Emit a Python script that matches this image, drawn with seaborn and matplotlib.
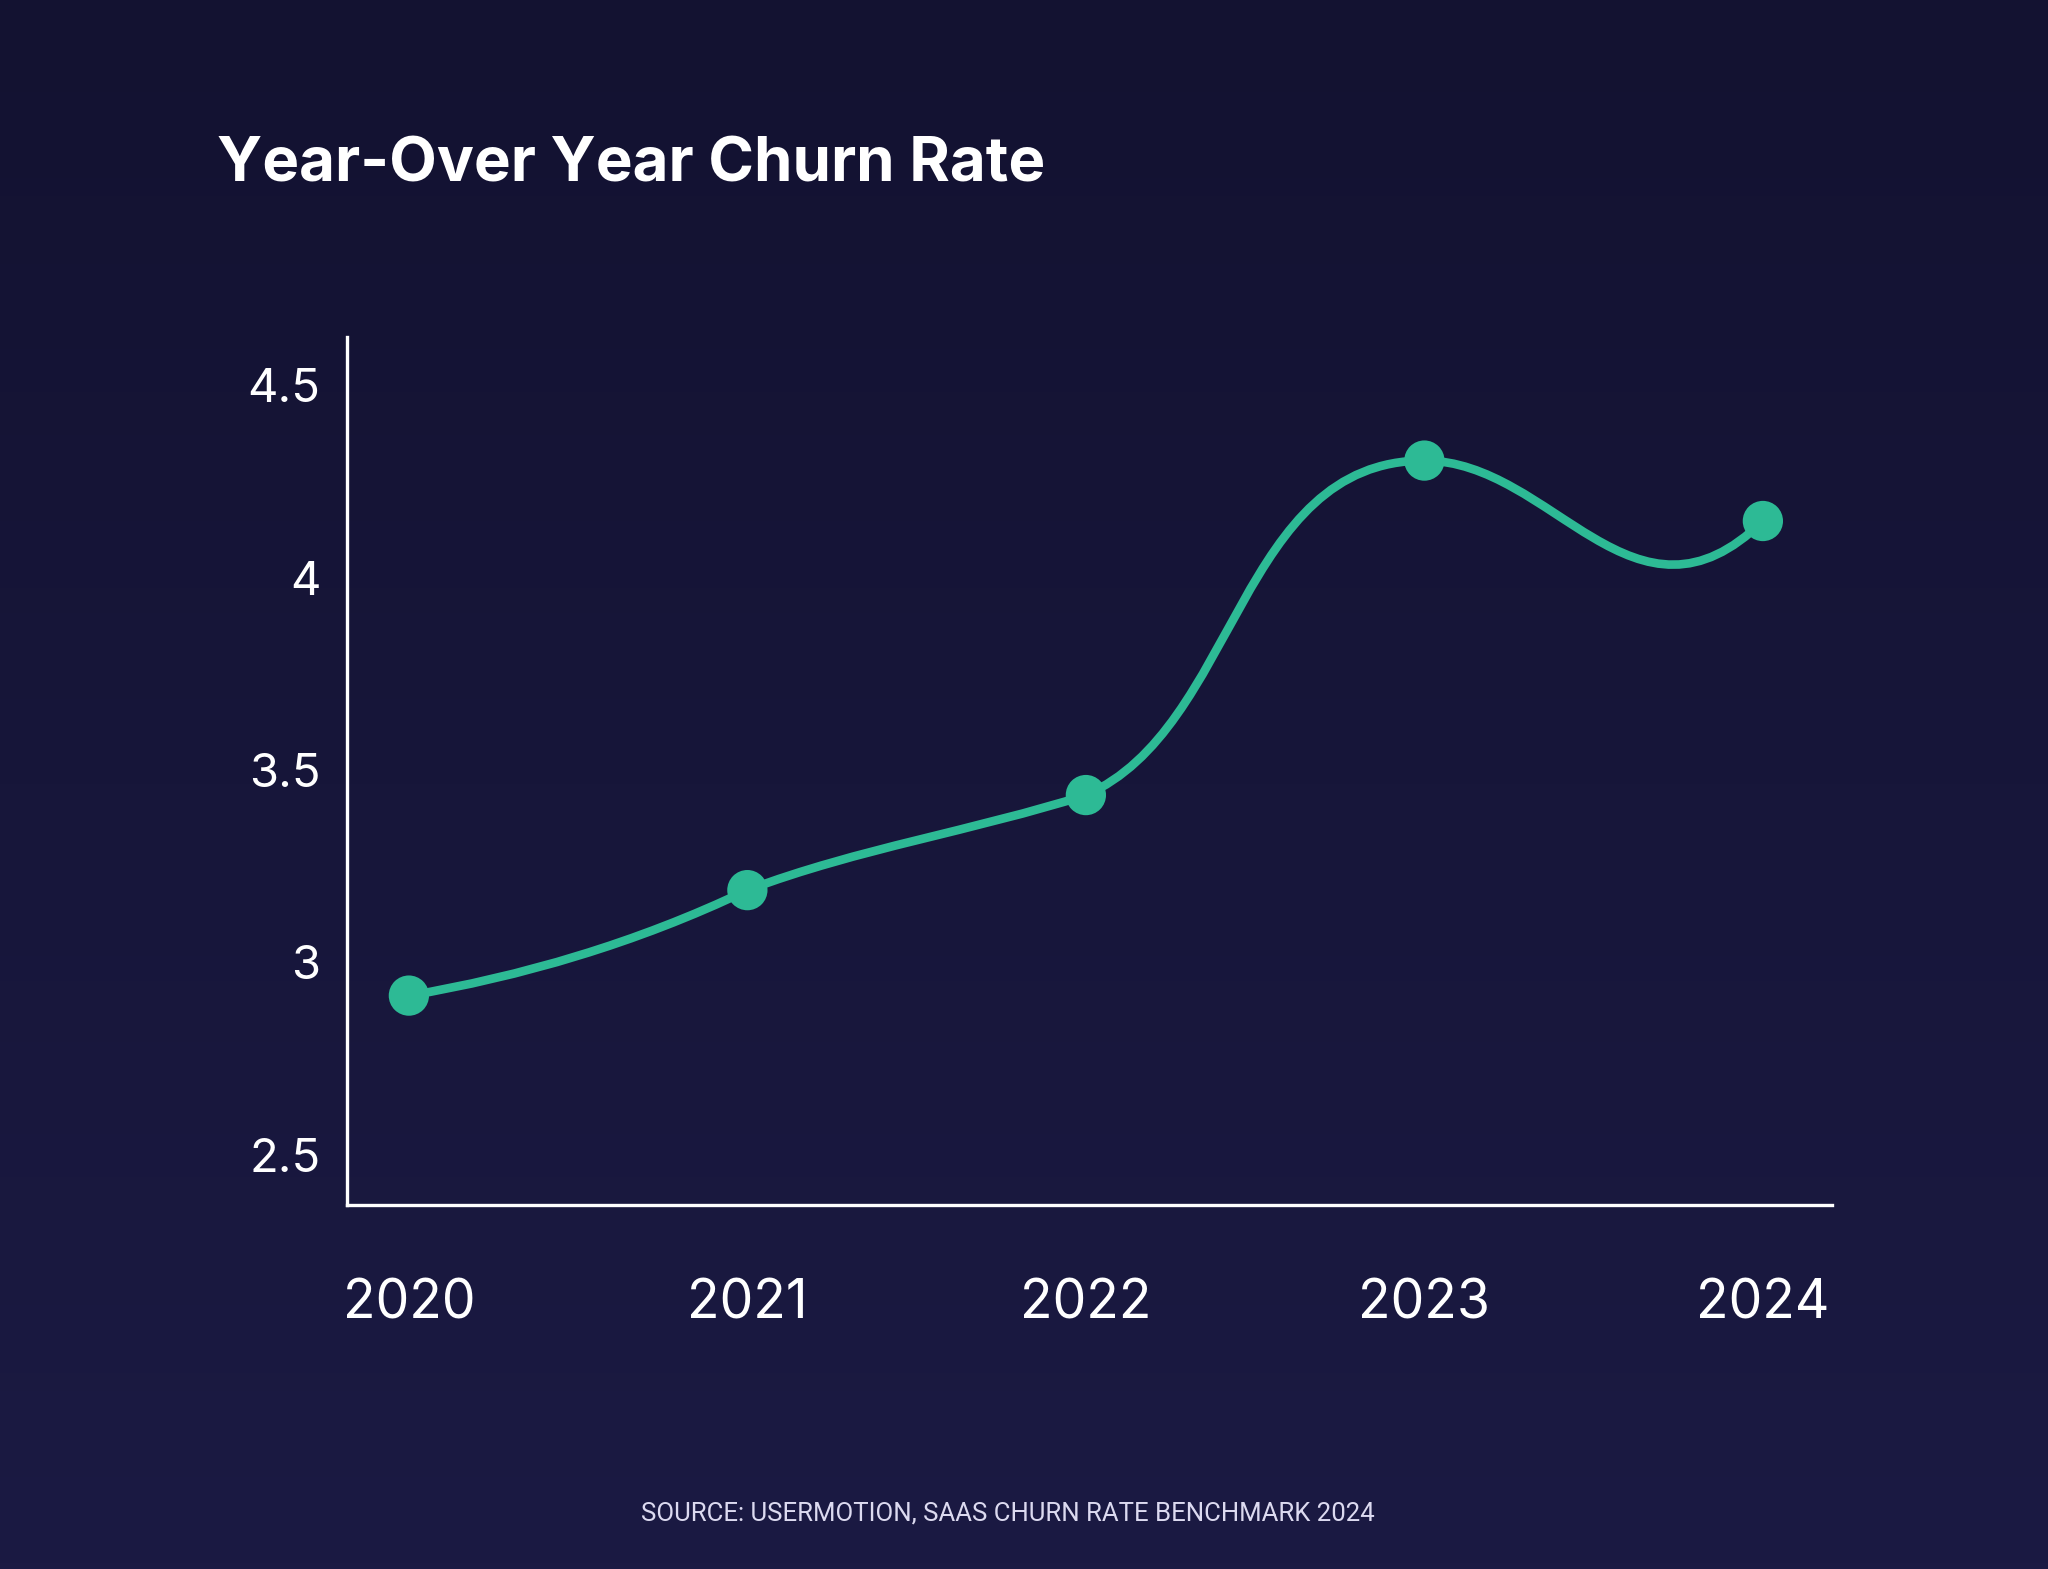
import numpy as np
import matplotlib
matplotlib.use("Agg")
import matplotlib.pyplot as plt
from matplotlib.path import Path
from matplotlib.patches import PathPatch
import seaborn as sns

# data
years = [2020, 2021, 2022, 2023, 2024]
churn = [2.914, 3.188, 3.435, 4.304, 4.147]
y_ticks = [2.5, 3, 3.5, 4, 4.5]
y_tick_labels = ["2.5", "3", "3.5", "4", "4.5"]
title = "Year-Over Year Churn Rate"
source = "SOURCE: USERMOTION, SAAS CHURN RATE BENCHMARK 2024"

# curve handles per segment: (out length, out slope, in length, in slope)
handles = [
    (0.33, 0.15, 0.33, 0.42),
    (0.33, 0.33, 0.33, 0.28),
    (0.45, 0.385, 0.55, 0.0),
    (0.38, 0.0, 0.38, 0.86),
]

BG_TOP = "#131231"
BG_BOTTOM = "#1b1a43"
GREEN = "#2dba95"
WHITE = "#ffffff"

sns.set_style("dark")
plt.rcParams["font.family"] = ["Inter", "DejaVu Sans"]

fig = plt.figure(figsize=(20.48, 15.69), dpi=100)

# background gradient
bg = fig.add_axes([0, 0, 1, 1], zorder=-10)
grad = np.linspace(0, 1, 256)[:, None]
cmap = matplotlib.colors.LinearSegmentedColormap.from_list("bg", [BG_TOP, BG_BOTTOM])
bg.imshow(grad, aspect="auto", cmap=cmap, extent=[0, 1, 0, 1], origin="upper")
bg.axis("off")

ax = fig.add_axes([0.1694, 0.2320, 0.7251, 0.5532])
ax.set_facecolor("none")

# smooth line through the points (cubic bezier segments)
verts = [(years[0], churn[0])]
codes = [Path.MOVETO]
for i, (lo, so, li, si) in enumerate(handles):
    x0, y0 = years[i], churn[i]
    x1, y1 = years[i + 1], churn[i + 1]
    verts += [(x0 + lo, y0 + lo * so), (x1 - li, y1 - li * si), (x1, y1)]
    codes += [Path.CURVE4] * 3
ax.add_patch(PathPatch(Path(verts, codes), fill=False, edgecolor=GREEN,
                       lw=6.2, capstyle="round", zorder=2))

sns.scatterplot(x=years, y=churn, ax=ax, s=29 ** 2, color=GREEN,
                edgecolor="none", zorder=3, legend=False)

ax.set_xlim(2019.817, 2024.204)
ax.set_ylim(2.37, 4.625)
ax.set_xticks(years)
ax.set_xticklabels([str(y) for y in years])
ax.set_yticks(y_ticks)
ax.set_yticklabels(y_tick_labels)
ax.tick_params(axis="x", length=0, pad=53, labelsize=38.5, labelcolor=WHITE)
ax.tick_params(axis="y", length=0, pad=19, labelsize=34, labelcolor=WHITE)
ax.grid(False)
for side in ["top", "right"]:
    ax.spines[side].set_visible(False)
for side in ["left", "bottom"]:
    ax.spines[side].set_visible(True)
    ax.spines[side].set_color(WHITE)
    ax.spines[side].set_linewidth(2.4)

fig.text(217 / 2048, 1 - 182 / 1569, title, color=WHITE, fontsize=44.5,
         fontweight="bold", ha="left", va="baseline")
fig.text(1008 / 2048, 1 - 1514 / 1569, source, color="#dcdaf0", fontsize=18.5,
         ha="center", va="center", family=["Roboto", "DejaVu Sans"])

fig.savefig("out.png", dpi=100, facecolor=BG_TOP)
